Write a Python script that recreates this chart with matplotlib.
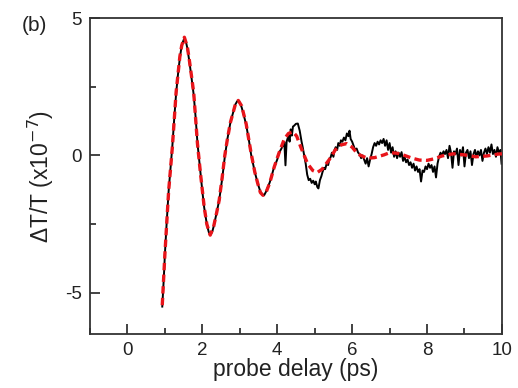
import matplotlib
matplotlib.use("Agg")
import matplotlib.pyplot as plt
from matplotlib.ticker import MultipleLocator

# measured data (black): delay (ps), dT/T (x1e-7)
data_t = [0.93, 0.97, 1.0, 1.05, 1.1, 1.15, 1.2, 1.25, 1.3, 1.35, 1.4, 1.45, 1.5, 1.52,
          1.56, 1.6, 1.65, 1.7, 1.77, 1.82, 1.87, 1.95, 2.0, 2.05, 2.12, 2.17, 2.21, 2.26,
          2.3, 2.38, 2.45, 2.53, 2.6, 2.67, 2.75, 2.81, 2.88, 2.93, 2.96, 3.0, 3.05, 3.1,
          3.17, 3.25, 3.3, 3.4, 3.48, 3.55, 3.6, 3.65, 3.7, 3.8, 3.85, 3.9, 3.95, 4.0,
          4.05, 4.1, 4.15, 4.19, 4.22, 4.25, 4.3, 4.33, 4.36, 4.39, 4.42, 4.45, 4.5, 4.55,
          4.6, 4.65, 4.68, 4.72, 4.76, 4.8, 4.84, 4.88, 4.92, 4.96, 5.0, 5.03, 5.07, 5.1,
          5.14, 5.18, 5.21, 5.25, 5.28, 5.32, 5.36, 5.39, 5.43, 5.46, 5.5, 5.53, 5.56, 5.6,
          5.63, 5.67, 5.7, 5.74, 5.78, 5.82, 5.86, 5.9, 5.93, 5.96, 6.0, 6.04, 6.08, 6.12,
          6.16, 6.2, 6.24, 6.28, 6.32, 6.36, 6.4, 6.44, 6.48, 6.52, 6.56, 6.6, 6.64, 6.68,
          6.72, 6.76, 6.8, 6.84, 6.88, 6.92, 6.96, 7.0, 7.04, 7.08, 7.12, 7.16, 7.2, 7.24,
          7.28, 7.32, 7.36, 7.4, 7.44, 7.48, 7.52, 7.56, 7.6, 7.64, 7.68, 7.72, 7.76, 7.8,
          7.84, 7.88, 7.92, 7.96, 8.0, 8.04, 8.08, 8.12, 8.16, 8.2, 8.24, 8.28, 8.32, 8.36,
          8.4, 8.44, 8.48, 8.52, 8.56, 8.6, 8.64, 8.68, 8.72, 8.76, 8.8, 8.84, 8.88, 8.92,
          8.96, 9.0, 9.04, 9.08, 9.12, 9.16, 9.2, 9.24, 9.28, 9.32, 9.36, 9.4, 9.44, 9.48,
          9.52, 9.56, 9.6, 9.64, 9.68, 9.72, 9.76, 9.8, 9.84, 9.88, 9.92, 9.96, 9.99]
data_y = [-5.5, -4.5, -3.6, -2.4, -1.3, -0.45, 0.35, 1.35, 2.25, 2.95, 3.55, 4.0, 4.2, 4.23,
          4.15, 3.9, 3.45, 2.95, 2.2, 1.4, 0.45, -0.65, -1.3, -1.9, -2.5, -2.78, -2.88, -2.8,
          -2.6, -2.1, -1.63, -0.85, -0.05, 0.6, 1.2, 1.5, 1.85, 1.97, 2.0, 1.92, 1.75, 1.5,
          1.12, 0.5, 0.05, -0.6, -1.02, -1.32, -1.44, -1.45, -1.32, -0.98, -0.75, -0.5, -0.32, -0.15,
          0.1, 0.22, 0.35, 0.48, -0.36, 0.5, 0.72, 0.5, 0.95, 0.72, 1.05, 1.08, 1.15, 1.16,
          0.9, 0.5, 0.3, 0.0, -0.3, -0.7, -0.9, -0.85, -1.0, -0.92, -1.05, -0.95, -1.15, -1.2,
          -0.9, -0.75, -0.6, -0.45, -0.5, -0.3, -0.35, -0.15, -0.05, 0.1, -0.05, 0.2, 0.3, 0.2,
          0.45, 0.35, 0.55, 0.5, 0.65, 0.55, 0.8, 0.7, 0.9, 0.6, 0.5, 0.35, 0.2, 0.25,
          0.1, 0.05, -0.1, 0.0, -0.15, -0.3, -0.1, -0.4, -0.15, 0.05, 0.3, 0.45, 0.35, 0.5,
          0.4, 0.55, 0.45, 0.6, 0.35, 0.55, 0.2, 0.45, 0.1, 0.3, -0.05, 0.15, -0.1, 0.1,
          -0.05, 0.12, -0.2, -0.05, -0.25, -0.15, -0.35, -0.25, -0.45, -0.3, -0.55, -0.4, -0.6, -0.5,
          -0.95, -0.55, -0.6, -0.4, -0.5, -0.3, -0.45, -0.35, -0.6, -0.4, -0.8, -0.3, -0.05, 0.1,
          0.0, 0.15, 0.05, 0.2, -0.1, 0.35, 0.1, -0.45, 0.15, 0.05, 0.25, -0.35, 0.2, 0.0,
          0.3, -0.4, 0.1, 0.2, -0.1, 0.15, -0.35, 0.05, 0.2, -0.05, 0.15, 0.0, 0.2, -0.2,
          0.1, 0.25, 0.05, 0.3, 0.1, 0.4, 0.05, 0.2, -0.05, 0.3, 0.1, 0.2, -0.3]

# fit (red dashed)
fit_t = [0.93, 1.0, 1.1, 1.2, 1.3, 1.4, 1.45, 1.52, 1.6, 1.65, 1.7, 1.77, 1.87, 1.95,
         2.05, 2.12, 2.21, 2.3, 2.38, 2.45, 2.53, 2.6, 2.67, 2.75, 2.81, 2.88, 2.96, 3.05,
         3.17, 3.25, 3.3, 3.4, 3.48, 3.55, 3.62, 3.7, 3.8, 3.92, 4.05, 4.19, 4.3, 4.42,
         4.52, 4.63, 4.72, 4.81, 4.95, 5.07, 5.2, 5.39, 5.55, 5.7, 5.85, 6.0, 6.15, 6.4,
         6.6, 6.85, 7.0, 7.2, 7.4, 7.6, 7.8, 8.0, 8.2, 8.4, 8.7, 9.0, 9.3, 9.6, 9.9, 10.0]
fit_y = [-5.45, -3.6, -1.3, 0.3, 2.3, 3.6, 4.0, 4.3, 3.95, 3.5, 3.0, 2.28, 0.43, -0.65,
         -1.88, -2.5, -2.9, -2.6, -2.1, -1.63, -0.8, 0.0, 0.6, 1.2, 1.5, 1.85, 2.0, 1.8,
         1.15, 0.5, 0.1, -0.6, -1.02, -1.35, -1.45, -1.35, -1.0, -0.42, 0.1, 0.6, 0.8, 0.86,
         0.7, 0.3, 0.0, -0.3, -0.55, -0.62, -0.5, -0.15, 0.2, 0.38, 0.43, 0.3, 0.05, -0.1,
         -0.08, 0.02, 0.1, 0.08, 0.0, -0.1, -0.17, -0.18, -0.12, -0.02, 0.06, 0.02, -0.05, -0.02, 0.05, 0.06]

x_ticks = [0, 2, 4, 6, 8, 10]
y_ticks = [-5, 0, 5]

plt.rcParams['font.family'] = ['Liberation Sans', 'DejaVu Sans']
fig = plt.figure(figsize=(5.18, 3.88), dpi=100)
ax = fig.add_axes([0.1737, 0.139, 0.7953, 0.8146])

ax.plot(data_t, data_y, color='black', lw=1.4, zorder=2)
ax.plot(fit_t, fit_y, color='#e8141a', lw=2.4, dashes=(2.2, 1.3), zorder=3)

ax.set_xlim(-1, 10)
ax.set_ylim(-6.5, 5)
ax.set_xticks(x_ticks)
ax.set_yticks(y_ticks)
ax.set_yticklabels(['-5', '0', '5'])
ax.xaxis.set_minor_locator(MultipleLocator(1))
ax.yaxis.set_minor_locator(MultipleLocator(2.5))
ax.tick_params(which='both', direction='in', top=False, right=False, labelsize=13.5,
               width=1.2, colors='#222222', labelcolor='#222222')
ax.tick_params(which='major', length=7, pad=6)
ax.tick_params(which='minor', length=4)
for s in ax.spines.values():
    s.set_linewidth(1.3)
    s.set_color('#333333')

ax.set_xlabel('probe delay (ps)', fontsize=16.5, color='#222222', labelpad=-1)
ax.set_ylabel('ΔT/T (x10$^{-7}$)', fontsize=16.5, color='#222222', labelpad=6)
fig.text(0.042, 0.935, '(b)', fontsize=15, color='#222222', va='center')

fig.savefig('out.png', dpi=100)
